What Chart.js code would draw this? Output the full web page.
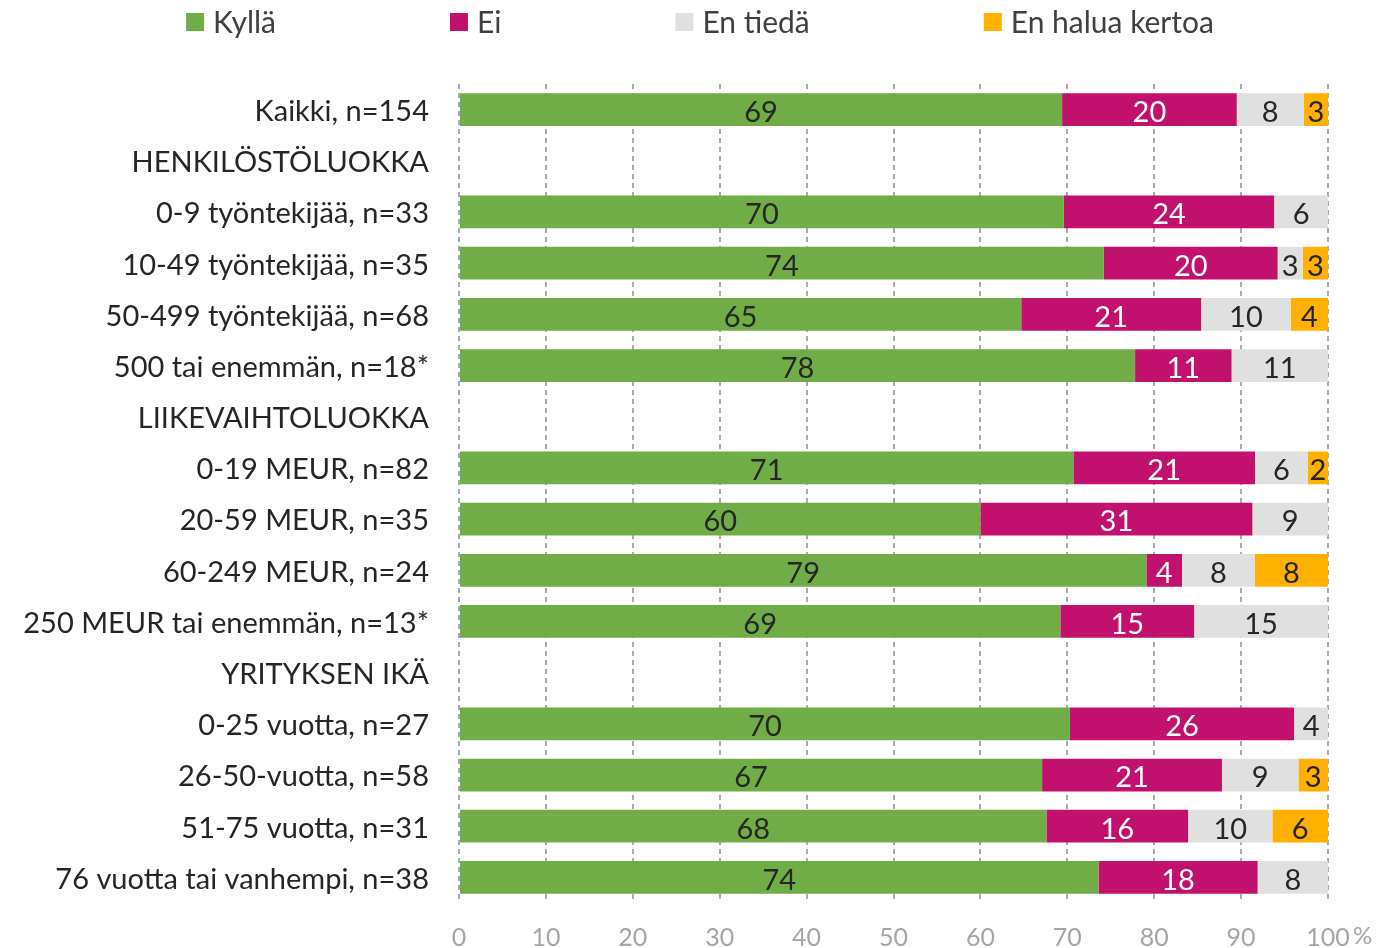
<!DOCTYPE html>
<html>
<head>
<meta charset="utf-8">
<script src="https://cdn.jsdelivr.net/npm/chart.js@4/dist/chart.umd.min.js"></script>
<style>
  html, body { margin: 0; padding: 0; background: #fff; }
  canvas { display: block; }
</style>
</head>
<body>
<canvas id="chart" width="1400" height="948"></canvas>
<script>
const categories = [
  "Kaikki, n=154",
  "HENKILÖSTÖLUOKKA",
  "0-9 työntekijää, n=33",
  "10-49 työntekijää, n=35",
  "50-499 työntekijää, n=68",
  "500 tai enemmän, n=18*",
  "LIIKEVAIHTOLUOKKA",
  "0-19 MEUR, n=82",
  "20-59 MEUR, n=35",
  "60-249 MEUR, n=24",
  "250 MEUR tai enemmän, n=13*",
  "YRITYKSEN IKÄ",
  "0-25 vuotta, n=27",
  "26-50-vuotta, n=58",
  "51-75 vuotta, n=31",
  "76 vuotta tai vanhempi, n=38"
];

const kylla   = [69.4, null, 69.6, 74.2, 64.7, 77.8, null, 70.7, 60.0, 79.1, 69.2, null, 70.3, 67.1, 67.6, 73.6];
const ei      = [20.1, null, 24.2, 20.0, 20.7, 11.1, null, 20.9, 31.3,  4.1, 15.4, null, 25.8, 20.7, 16.3, 18.3];
const enTieda = [ 7.7, null,  6.2,  2.9, 10.3, 11.1, null,  6.1,  8.7,  8.4, 15.4, null,  3.9,  8.8,  9.7,  8.1];
const enHalua = [ 2.8, null, null,  2.9,  4.3, null, null,  2.3, null,  8.4, null, null, null,  3.4,  6.4, null];

const seriesNames = ["Kyllä", "Ei", "En tiedä", "En halua kertoa"];
const seriesColors = ["#70AD47", "#C2106E", "#E0E0E0", "#FFB000"];
const labelColors = ["#262626", "#FFFFFF", "#262626", "#262626"];

const FONT = "Lato";

// legend drawn by hand: Excel spaces the items with an even gap
const legendPlugin = {
  id: "topLegend",
  afterDraw(chart) {
    const ctx = chart.ctx;
    ctx.save();
    ctx.font = "30px " + FONT;
    const box = 18, gapText = 9, gapItem = 174;
    const widths = seriesNames.map(n => box + gapText + ctx.measureText(n).width);
    const total = widths.reduce((a, b) => a + b, 0) + gapItem * (widths.length - 1);
    let x = (chart.width - total) / 2;
    const y = 22;
    ctx.textBaseline = "middle";
    ctx.textAlign = "left";
    seriesNames.forEach((n, i) => {
      ctx.fillStyle = seriesColors[i];
      ctx.fillRect(x, y - box / 2, box, box);
      ctx.fillStyle = "#404040";
      ctx.fillText(n, x + box + gapText, y + 1);
      x += widths[i] + gapItem;
    });
    ctx.restore();
  }
};

const valueLabels = {
  id: "valueLabels",
  afterDatasetsDraw(chart) {
    const ctx = chart.ctx;
    ctx.save();
    ctx.font = "29px " + FONT;
    ctx.textAlign = "center";
    ctx.textBaseline = "middle";
    chart.data.datasets.forEach((ds, i) => {
      const meta = chart.getDatasetMeta(i);
      meta.data.forEach((bar, j) => {
        const v = ds.data[j];
        if (v == null) return;
        ctx.fillStyle = labelColors[i];
        ctx.fillText(Math.round(v), (bar.x + bar.base) / 2, bar.y + 3);
      });
    });
    // the % sign after the last tick
    const xs = chart.scales.x;
    ctx.font = "24px " + FONT;
    ctx.fillStyle = "#A6A6A6";
    ctx.textAlign = "left";
    ctx.fillText("%", xs.getPixelForValue(100) + 25, 936);
    ctx.restore();
  }
};

new Chart(document.getElementById("chart"), {
  type: "bar",
  data: {
    labels: categories,
    datasets: [kylla, ei, enTieda, enHalua].map((d, i) => ({
      label: seriesNames[i],
      data: d,
      backgroundColor: seriesColors[i],
      borderWidth: 0,
      categoryPercentage: 1,
      barPercentage: 0.64
    }))
  },
  options: {
    indexAxis: "y",
    responsive: false,
    animation: false,
    layout: { padding: { top: 84, right: 72, left: 0, bottom: 0 } },
    plugins: {
      legend: { display: false },
      tooltip: { enabled: false }
    },
    scales: {
      x: {
        stacked: true,
        min: 0,
        max: 100,
        ticks: {
          stepSize: 10,
          color: "#A6A6A6",
          font: { family: FONT, size: 25 },
          padding: 20
        },
        grid: { color: "#ABABAB", lineWidth: 2, drawTicks: false },
        border: { display: false, dash: [5, 4] },
        afterFit(s) { s.height = 45; }
      },
      y: {
        stacked: true,
        ticks: {
          color: "#262626",
          font: { family: FONT, size: 29 },
          padding: 22,
          labelOffset: 2,
          autoSkip: false
        },
        grid: { display: false },
        border: { display: false },
        afterFit(s) { s.width = 459; }
      }
    }
  },
  plugins: [legendPlugin, valueLabels]
});
</script>
</body>
</html>
